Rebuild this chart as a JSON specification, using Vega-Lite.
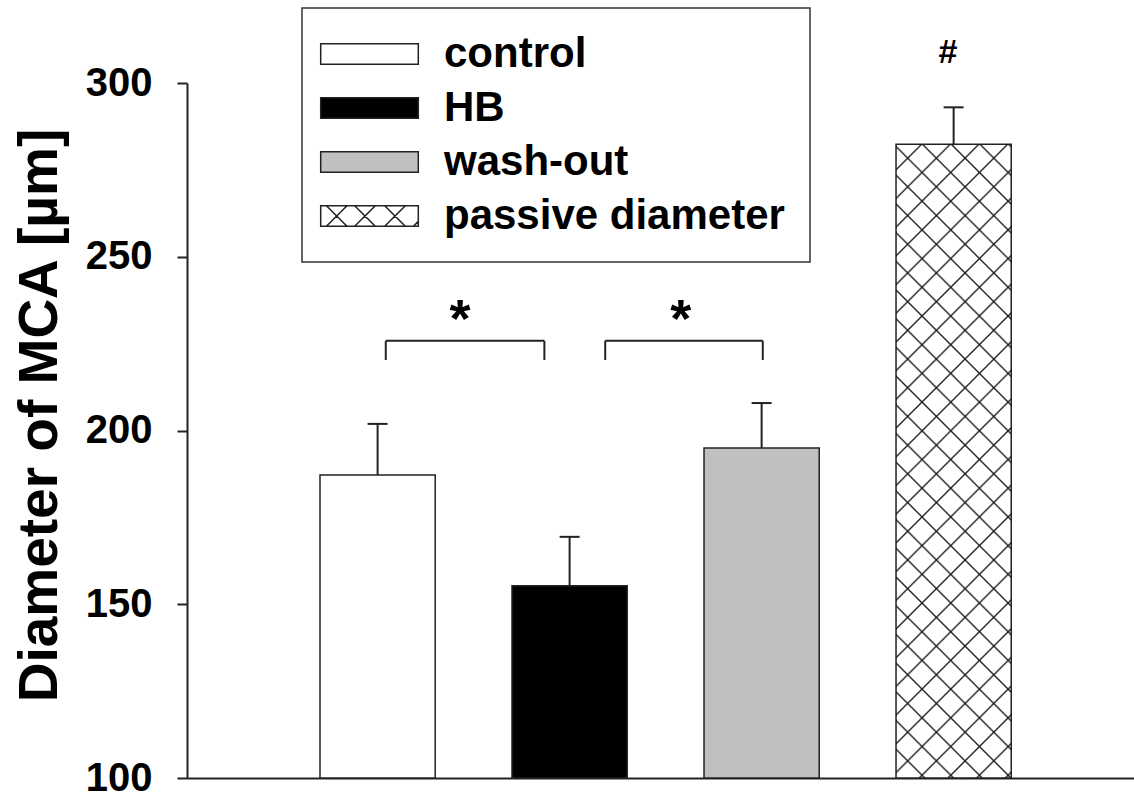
{
  "$schema": "https://vega.github.io/schema/vega-lite/v6.json",
  "width": 947,
  "height": 695,
  "autosize": "none",
  "padding": {"left": 187, "top": 83, "right": 0, "bottom": 23},
  "background": "white",
  "config": {"font": "Liberation Sans", "view": {"stroke": null}},
  "datasets": {
    "bars": [
      {"condition": "control", "mean": 187.2, "upper": 201.9},
      {"condition": "HB", "mean": 155.3, "upper": 169.4},
      {"condition": "wash-out", "mean": 195.0, "upper": 207.9},
      {"condition": "passive diameter", "mean": 282.4, "upper": 293.0}
    ],
    "sig": [
      {"pair": 1, "from": "control", "to": "HB", "y": 225.8, "ylow": 220.3, "ystar": 227.0, "label": "*"},
      {"pair": 2, "from": "HB", "to": "wash-out", "y": 225.8, "ylow": 220.3, "ystar": 227.0, "label": "*"}
    ],
    "hash": [{"condition": "passive diameter", "y": 305.8, "label": "#"}]
  },
  "layer": [
    {
      "data": {"name": "bars"},
      "mark": {"type": "bar", "stroke": "#222", "strokeWidth": 1.5},
      "encoding": {
        "x": {
          "field": "condition", "type": "nominal", "sort": null,
          "scale": {"domain": ["control", "HB", "wash-out", "passive diameter"], "paddingInner": 0.4, "paddingOuter": 0.666, "align": 0.52},
          "axis": {"title": null, "labels": false, "ticks": false, "domainColor": "#222", "domainWidth": 2}
        },
        "y": {
          "field": "mean", "type": "quantitative",
          "scale": {"domain": [100, 300], "nice": false, "zero": false},
          "axis": {
            "title": "Diameter of MCA [µm]", "values": [100, 150, 200, 250, 300],
            "grid": false, "tickSize": 10, "tickWidth": 2, "tickColor": "#222",
            "domainColor": "#222", "domainWidth": 2,
            "labelFontSize": 40, "labelFontWeight": "bold", "labelColor": "black", "labelPadding": 25,
            "titleFontSize": 55, "titleFontWeight": "bold", "titleColor": "black",
            "titleX": -131, "titleY": 332, "titleBaseline": "alphabetic", "titleAlign": "center", "titleAngle": -90
          }
        },
        "y2": {"datum": 100},
        "color": {
          "field": "condition", "type": "nominal", "sort": null,
          "scale": {"domain": ["control", "HB", "wash-out", "passive diameter"], "range": ["white", "black", "#c0c0c0", "white"]},
          "legend": {
            "title": null, "orient": "none", "legendX": 115, "legendY": -75, "direction": "vertical",
            "symbolType": "M-2.73,-1.03H7.03V1.03H-2.73Z", "symbolSize": 400,
            "symbolStrokeColor": "#222", "symbolStrokeWidth": 1.5,
            "labelFontSize": 42, "labelFontWeight": "bold", "labelColor": "black", "labelOffset": 75, "labelLimit": 600,
            "padding": 25, "rowPadding": 12, "strokeColor": "#333", "fillColor": "white",
            "encode": {
              "legend": {"update": {"strokeWidth": {"value": 1.5}}},
              "symbols": {
                "update": {
                  "shape": [
                    {"test": "datum.value === 'passive diameter'", "value": "M-2.73,-1.03H7.03V1.03H-2.73Z M-2.16,1.03L-0.1,-1.03 M-2.16,-1.03L-0.1,1.03 M0.67,1.03L2.73,-1.03 M0.67,-1.03L2.73,1.03 M3.67,1.03L5.73,-1.03 M3.67,-1.03L5.73,1.03 M6.54,1.03L7.03,0.54"},
                    {"value": "M-2.73,-1.03H7.03V1.03H-2.73Z"}
                  ]
                }
              }
            }
          }
        }
      }
    },
    {
      "data": {"name": "bars"},
      "transform": [{"filter": "datum.condition === 'passive diameter'"}],
      "mark": {
        "type": "bar", "strokeWidth": 0,
        "fill": {
          "gradient": "linear", "x1": 0, "y1": 0, "x2": 0.20793, "y2": 1.14401,
          "stops": [
            {"offset": 0.0317, "color": "rgba(0,0,0,0)"}, {"offset": 0.0342, "color": "#222"}, {"offset": 0.0367, "color": "rgba(0,0,0,0)"},
            {"offset": 0.0700, "color": "rgba(0,0,0,0)"}, {"offset": 0.0725, "color": "#222"}, {"offset": 0.0750, "color": "rgba(0,0,0,0)"},
            {"offset": 0.1083, "color": "rgba(0,0,0,0)"}, {"offset": 0.1108, "color": "#222"}, {"offset": 0.1133, "color": "rgba(0,0,0,0)"},
            {"offset": 0.1466, "color": "rgba(0,0,0,0)"}, {"offset": 0.1491, "color": "#222"}, {"offset": 0.1516, "color": "rgba(0,0,0,0)"},
            {"offset": 0.1850, "color": "rgba(0,0,0,0)"}, {"offset": 0.1875, "color": "#222"}, {"offset": 0.1900, "color": "rgba(0,0,0,0)"},
            {"offset": 0.2233, "color": "rgba(0,0,0,0)"}, {"offset": 0.2258, "color": "#222"}, {"offset": 0.2283, "color": "rgba(0,0,0,0)"},
            {"offset": 0.2616, "color": "rgba(0,0,0,0)"}, {"offset": 0.2641, "color": "#222"}, {"offset": 0.2666, "color": "rgba(0,0,0,0)"},
            {"offset": 0.2999, "color": "rgba(0,0,0,0)"}, {"offset": 0.3024, "color": "#222"}, {"offset": 0.3049, "color": "rgba(0,0,0,0)"},
            {"offset": 0.3382, "color": "rgba(0,0,0,0)"}, {"offset": 0.3407, "color": "#222"}, {"offset": 0.3432, "color": "rgba(0,0,0,0)"},
            {"offset": 0.3765, "color": "rgba(0,0,0,0)"}, {"offset": 0.3790, "color": "#222"}, {"offset": 0.3815, "color": "rgba(0,0,0,0)"},
            {"offset": 0.4149, "color": "rgba(0,0,0,0)"}, {"offset": 0.4174, "color": "#222"}, {"offset": 0.4199, "color": "rgba(0,0,0,0)"},
            {"offset": 0.4532, "color": "rgba(0,0,0,0)"}, {"offset": 0.4557, "color": "#222"}, {"offset": 0.4582, "color": "rgba(0,0,0,0)"},
            {"offset": 0.4915, "color": "rgba(0,0,0,0)"}, {"offset": 0.4940, "color": "#222"}, {"offset": 0.4965, "color": "rgba(0,0,0,0)"},
            {"offset": 0.5298, "color": "rgba(0,0,0,0)"}, {"offset": 0.5323, "color": "#222"}, {"offset": 0.5348, "color": "rgba(0,0,0,0)"},
            {"offset": 0.5681, "color": "rgba(0,0,0,0)"}, {"offset": 0.5706, "color": "#222"}, {"offset": 0.5731, "color": "rgba(0,0,0,0)"},
            {"offset": 0.6065, "color": "rgba(0,0,0,0)"}, {"offset": 0.6090, "color": "#222"}, {"offset": 0.6115, "color": "rgba(0,0,0,0)"},
            {"offset": 0.6448, "color": "rgba(0,0,0,0)"}, {"offset": 0.6473, "color": "#222"}, {"offset": 0.6498, "color": "rgba(0,0,0,0)"},
            {"offset": 0.6831, "color": "rgba(0,0,0,0)"}, {"offset": 0.6856, "color": "#222"}, {"offset": 0.6881, "color": "rgba(0,0,0,0)"},
            {"offset": 0.7214, "color": "rgba(0,0,0,0)"}, {"offset": 0.7239, "color": "#222"}, {"offset": 0.7264, "color": "rgba(0,0,0,0)"},
            {"offset": 0.7597, "color": "rgba(0,0,0,0)"}, {"offset": 0.7622, "color": "#222"}, {"offset": 0.7647, "color": "rgba(0,0,0,0)"},
            {"offset": 0.7980, "color": "rgba(0,0,0,0)"}, {"offset": 0.8005, "color": "#222"}, {"offset": 0.8030, "color": "rgba(0,0,0,0)"},
            {"offset": 0.8364, "color": "rgba(0,0,0,0)"}, {"offset": 0.8389, "color": "#222"}, {"offset": 0.8414, "color": "rgba(0,0,0,0)"},
            {"offset": 0.8747, "color": "rgba(0,0,0,0)"}, {"offset": 0.8772, "color": "#222"}, {"offset": 0.8797, "color": "rgba(0,0,0,0)"},
            {"offset": 0.9130, "color": "rgba(0,0,0,0)"}, {"offset": 0.9155, "color": "#222"}, {"offset": 0.9180, "color": "rgba(0,0,0,0)"},
            {"offset": 0.9513, "color": "rgba(0,0,0,0)"}, {"offset": 0.9538, "color": "#222"}, {"offset": 0.9563, "color": "rgba(0,0,0,0)"},
            {"offset": 0.9896, "color": "rgba(0,0,0,0)"}, {"offset": 0.9921, "color": "#222"}, {"offset": 0.9946, "color": "rgba(0,0,0,0)"}
          ]
        }
      },
      "encoding": {
        "x": {"field": "condition", "type": "nominal", "sort": null, "scale": {"domain": ["control", "HB", "wash-out", "passive diameter"]}},
        "y": {"field": "mean", "type": "quantitative"},
        "y2": {"datum": 100}
      }
    },
    {
      "data": {"name": "bars"},
      "transform": [{"filter": "datum.condition === 'passive diameter'"}],
      "mark": {
        "type": "bar", "strokeWidth": 0,
        "fill": {
          "gradient": "linear", "x1": 1, "y1": 0, "x2": 0.79207, "y2": 1.14401,
          "stops": [
            {"offset": 0.0011, "color": "rgba(0,0,0,0)"}, {"offset": 0.0036, "color": "#222"}, {"offset": 0.0061, "color": "rgba(0,0,0,0)"},
            {"offset": 0.0394, "color": "rgba(0,0,0,0)"}, {"offset": 0.0419, "color": "#222"}, {"offset": 0.0444, "color": "rgba(0,0,0,0)"},
            {"offset": 0.0777, "color": "rgba(0,0,0,0)"}, {"offset": 0.0802, "color": "#222"}, {"offset": 0.0827, "color": "rgba(0,0,0,0)"},
            {"offset": 0.1161, "color": "rgba(0,0,0,0)"}, {"offset": 0.1186, "color": "#222"}, {"offset": 0.1211, "color": "rgba(0,0,0,0)"},
            {"offset": 0.1544, "color": "rgba(0,0,0,0)"}, {"offset": 0.1569, "color": "#222"}, {"offset": 0.1594, "color": "rgba(0,0,0,0)"},
            {"offset": 0.1927, "color": "rgba(0,0,0,0)"}, {"offset": 0.1952, "color": "#222"}, {"offset": 0.1977, "color": "rgba(0,0,0,0)"},
            {"offset": 0.2310, "color": "rgba(0,0,0,0)"}, {"offset": 0.2335, "color": "#222"}, {"offset": 0.2360, "color": "rgba(0,0,0,0)"},
            {"offset": 0.2693, "color": "rgba(0,0,0,0)"}, {"offset": 0.2718, "color": "#222"}, {"offset": 0.2743, "color": "rgba(0,0,0,0)"},
            {"offset": 0.3077, "color": "rgba(0,0,0,0)"}, {"offset": 0.3102, "color": "#222"}, {"offset": 0.3127, "color": "rgba(0,0,0,0)"},
            {"offset": 0.3460, "color": "rgba(0,0,0,0)"}, {"offset": 0.3485, "color": "#222"}, {"offset": 0.3510, "color": "rgba(0,0,0,0)"},
            {"offset": 0.3843, "color": "rgba(0,0,0,0)"}, {"offset": 0.3868, "color": "#222"}, {"offset": 0.3893, "color": "rgba(0,0,0,0)"},
            {"offset": 0.4226, "color": "rgba(0,0,0,0)"}, {"offset": 0.4251, "color": "#222"}, {"offset": 0.4276, "color": "rgba(0,0,0,0)"},
            {"offset": 0.4609, "color": "rgba(0,0,0,0)"}, {"offset": 0.4634, "color": "#222"}, {"offset": 0.4659, "color": "rgba(0,0,0,0)"},
            {"offset": 0.4992, "color": "rgba(0,0,0,0)"}, {"offset": 0.5017, "color": "#222"}, {"offset": 0.5042, "color": "rgba(0,0,0,0)"},
            {"offset": 0.5376, "color": "rgba(0,0,0,0)"}, {"offset": 0.5401, "color": "#222"}, {"offset": 0.5426, "color": "rgba(0,0,0,0)"},
            {"offset": 0.5759, "color": "rgba(0,0,0,0)"}, {"offset": 0.5784, "color": "#222"}, {"offset": 0.5809, "color": "rgba(0,0,0,0)"},
            {"offset": 0.6142, "color": "rgba(0,0,0,0)"}, {"offset": 0.6167, "color": "#222"}, {"offset": 0.6192, "color": "rgba(0,0,0,0)"},
            {"offset": 0.6525, "color": "rgba(0,0,0,0)"}, {"offset": 0.6550, "color": "#222"}, {"offset": 0.6575, "color": "rgba(0,0,0,0)"},
            {"offset": 0.6908, "color": "rgba(0,0,0,0)"}, {"offset": 0.6933, "color": "#222"}, {"offset": 0.6958, "color": "rgba(0,0,0,0)"},
            {"offset": 0.7292, "color": "rgba(0,0,0,0)"}, {"offset": 0.7317, "color": "#222"}, {"offset": 0.7342, "color": "rgba(0,0,0,0)"},
            {"offset": 0.7675, "color": "rgba(0,0,0,0)"}, {"offset": 0.7700, "color": "#222"}, {"offset": 0.7725, "color": "rgba(0,0,0,0)"},
            {"offset": 0.8058, "color": "rgba(0,0,0,0)"}, {"offset": 0.8083, "color": "#222"}, {"offset": 0.8108, "color": "rgba(0,0,0,0)"},
            {"offset": 0.8441, "color": "rgba(0,0,0,0)"}, {"offset": 0.8466, "color": "#222"}, {"offset": 0.8491, "color": "rgba(0,0,0,0)"},
            {"offset": 0.8824, "color": "rgba(0,0,0,0)"}, {"offset": 0.8849, "color": "#222"}, {"offset": 0.8874, "color": "rgba(0,0,0,0)"},
            {"offset": 0.9207, "color": "rgba(0,0,0,0)"}, {"offset": 0.9232, "color": "#222"}, {"offset": 0.9257, "color": "rgba(0,0,0,0)"},
            {"offset": 0.9591, "color": "rgba(0,0,0,0)"}, {"offset": 0.9616, "color": "#222"}, {"offset": 0.9641, "color": "rgba(0,0,0,0)"}
          ]
        }
      },
      "encoding": {
        "x": {"field": "condition", "type": "nominal", "sort": null, "scale": {"domain": ["control", "HB", "wash-out", "passive diameter"]}},
        "y": {"field": "mean", "type": "quantitative"},
        "y2": {"datum": 100}
      }
    },
    {
      "data": {"name": "bars"},
      "mark": {"type": "rule", "strokeWidth": 2, "color": "#222"},
      "encoding": {
        "x": {"field": "condition", "type": "nominal", "sort": null, "scale": {"domain": ["control", "HB", "wash-out", "passive diameter"]}},
        "y": {"field": "mean", "type": "quantitative"},
        "y2": {"field": "upper"}
      }
    },
    {
      "data": {"name": "bars"},
      "mark": {"type": "tick", "size": 20, "thickness": 2, "color": "#222", "opacity": 1},
      "encoding": {
        "x": {"field": "condition", "type": "nominal", "sort": null, "scale": {"domain": ["control", "HB", "wash-out", "passive diameter"]}},
        "y": {"field": "upper", "type": "quantitative"}
      }
    },
    {
      "data": {"name": "sig"},
      "transform": [{"filter": "datum.pair === 1"}],
      "layer": [
        {
          "mark": {"type": "rule", "strokeWidth": 2, "color": "#222"},
          "encoding": {
            "x": {"field": "from", "type": "nominal", "bandPosition": 0.571, "scale": {"domain": ["control", "HB", "wash-out", "passive diameter"]}},
            "x2": {"field": "to", "bandPosition": 0.281},
            "y": {"field": "y", "type": "quantitative"}
          }
        },
        {
          "mark": {"type": "rule", "strokeWidth": 2, "color": "#222"},
          "encoding": {
            "x": {"field": "from", "type": "nominal", "bandPosition": 0.571, "scale": {"domain": ["control", "HB", "wash-out", "passive diameter"]}},
            "y": {"field": "y", "type": "quantitative"},
            "y2": {"field": "ylow"}
          }
        },
        {
          "mark": {"type": "rule", "strokeWidth": 2, "color": "#222"},
          "encoding": {
            "x": {"field": "to", "type": "nominal", "bandPosition": 0.281, "scale": {"domain": ["control", "HB", "wash-out", "passive diameter"]}},
            "y": {"field": "y", "type": "quantitative"},
            "y2": {"field": "ylow"}
          }
        },
        {
          "mark": {"type": "text", "fontSize": 54, "fontWeight": "bold", "color": "black", "align": "center", "baseline": "alphabetic"},
          "encoding": {
            "x": {"field": "to", "type": "nominal", "bandPosition": -0.452, "scale": {"domain": ["control", "HB", "wash-out", "passive diameter"]}},
            "y": {"field": "ystar", "type": "quantitative"},
            "text": {"field": "label"}
          }
        }
      ]
    },
    {
      "data": {"name": "sig"},
      "transform": [{"filter": "datum.pair === 2"}],
      "layer": [
        {
          "mark": {"type": "rule", "strokeWidth": 2, "color": "#222"},
          "encoding": {
            "x": {"field": "from", "type": "nominal", "bandPosition": 0.809, "scale": {"domain": ["control", "HB", "wash-out", "passive diameter"]}},
            "x2": {"field": "to", "bandPosition": 0.51},
            "y": {"field": "y", "type": "quantitative"}
          }
        },
        {
          "mark": {"type": "rule", "strokeWidth": 2, "color": "#222"},
          "encoding": {
            "x": {"field": "from", "type": "nominal", "bandPosition": 0.809, "scale": {"domain": ["control", "HB", "wash-out", "passive diameter"]}},
            "y": {"field": "y", "type": "quantitative"},
            "y2": {"field": "ylow"}
          }
        },
        {
          "mark": {"type": "rule", "strokeWidth": 2, "color": "#222"},
          "encoding": {
            "x": {"field": "to", "type": "nominal", "bandPosition": 0.51, "scale": {"domain": ["control", "HB", "wash-out", "passive diameter"]}},
            "y": {"field": "y", "type": "quantitative"},
            "y2": {"field": "ylow"}
          }
        },
        {
          "mark": {"type": "text", "fontSize": 54, "fontWeight": "bold", "color": "black", "align": "center", "baseline": "alphabetic"},
          "encoding": {
            "x": {"field": "to", "type": "nominal", "bandPosition": -0.203, "scale": {"domain": ["control", "HB", "wash-out", "passive diameter"]}},
            "y": {"field": "ystar", "type": "quantitative"},
            "text": {"field": "label"}
          }
        }
      ]
    },
    {
      "data": {"name": "hash"},
      "mark": {"type": "text", "fontSize": 34, "fontWeight": "bold", "color": "black", "align": "center", "baseline": "alphabetic"},
      "encoding": {
        "x": {"field": "condition", "type": "nominal", "bandPosition": 0.45, "scale": {"domain": ["control", "HB", "wash-out", "passive diameter"]}},
        "y": {"field": "y", "type": "quantitative"},
        "text": {"field": "label"}
      }
    }
  ]
}
